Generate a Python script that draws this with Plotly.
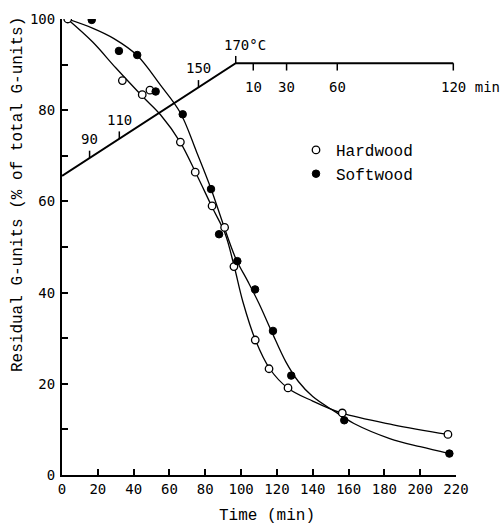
import numpy as np
import plotly.graph_objects as go

# ---------------- data ----------------
hard_time = [3.2, 33.7, 44.8, 49.1, 66.1, 74.4, 83.8, 90.8, 96.0, 107.9, 115.6, 126.2, 156.5, 215.5]
hard_resid = [100.0, 86.5, 83.4, 84.4, 73.0, 66.4, 59.0, 54.3, 45.7, 29.6, 23.3, 19.1, 13.6, 8.9]

soft_time = [16.6, 31.8, 42.0, 52.3, 67.4, 83.2, 87.7, 97.9, 107.8, 117.8, 128.0, 157.6, 216.3]
soft_resid = [99.8, 93.0, 92.1, 84.1, 79.1, 62.7, 52.8, 46.9, 40.7, 31.6, 21.8, 12.0, 4.7]

# fitted (hand-drawn) curves
hard_curve_time = [3, 17, 30, 45, 55, 66, 75, 84, 91, 96, 101, 108, 116, 126, 140, 156, 185, 215.5]
hard_curve_resid = [100, 95, 89.3, 83.0, 79.0, 73.0, 66.0, 58.6, 53.0, 46.0, 38.0, 29.6, 23.3, 19.1, 16.2, 13.6, 11.0, 8.9]

soft_curve_time = [3, 17, 29, 42, 55, 66, 75, 83, 90, 97, 104, 110, 117, 125, 132, 140, 152, 163, 183, 200, 216.3]
soft_curve_resid = [100, 98.0, 95.7, 92.0, 85.5, 79.5, 71.0, 63.0, 55.0, 47.5, 42.3, 37.6, 31.5, 24.8, 20.5, 17.2, 14.0, 11.3, 8.0, 6.2, 4.7]

# cooking temperature/time schedule (drawn in the same axes)
profile_time = [0, 97.0, 218.5]
profile_level = [65.6, 90.3, 90.3]
heat_tick_labels = ["90", "110", "150"]
heat_tick_time = [15.4, 32.0, 76.2]
top_label = "170°C"
hold_tick_labels = ["10", "30", "60", "120 min"]
hold_tick_time = [106.8, 125.4, 153.7, 218.5]

x_ticks = list(range(0, 221, 20))
y_ticks = list(range(0, 101, 20))

# ---------------- figure ----------------
MONO = "Liberation Mono"
NUM = "DejaVu Sans Mono"
fig = go.Figure()

fig.add_trace(go.Scatter(x=hard_curve_time, y=hard_curve_resid, mode="lines",
                         line=dict(color="black", width=1.3, shape="spline", smoothing=1.0),
                         showlegend=False, hoverinfo="skip"))
fig.add_trace(go.Scatter(x=soft_curve_time, y=soft_curve_resid, mode="lines",
                         line=dict(color="black", width=1.3, shape="spline", smoothing=1.0),
                         showlegend=False, hoverinfo="skip"))

# temperature profile
fig.add_trace(go.Scatter(x=profile_time, y=profile_level, mode="lines",
                         line=dict(color="black", width=2), showlegend=False, hoverinfo="skip"))

tick_len = 1.6
hx, hy = [], []
heat_levels = np.interp(heat_tick_time, profile_time, profile_level)
for t, lv in zip(heat_tick_time, heat_levels):
    hx += [t, t, None]
    hy += [lv, lv + tick_len, None]
# corner tick (170 °C) pointing up
hx += [profile_time[1], profile_time[1], None]
hy += [profile_level[1], profile_level[1] + tick_len, None]
hold_levels = np.interp(hold_tick_time, profile_time, profile_level)
for t, lv in zip(hold_tick_time, hold_levels):
    hx += [t, t, None]
    hy += [lv, lv - tick_len, None]
fig.add_trace(go.Scatter(x=hx, y=hy, mode="lines", line=dict(color="black", width=1.5),
                         showlegend=False, hoverinfo="skip"))

# data markers
fig.add_trace(go.Scatter(x=hard_time, y=hard_resid, mode="markers", name="Hardwood",
                         marker=dict(symbol="circle", size=7.5, color="white",
                                     line=dict(color="black", width=1.3))))
fig.add_trace(go.Scatter(x=soft_time, y=soft_resid, mode="markers", name="Softwood",
                         marker=dict(symbol="circle", size=7.5, color="black",
                                     line=dict(color="black", width=1))))

ann = []
for lab, t, lv in zip(heat_tick_labels, heat_tick_time, heat_levels):
    ann.append(dict(x=t, y=lv, xref="x", yref="y", text=lab, showarrow=False,
                    yshift=19, font=dict(family=NUM, size=14, color="black")))
ann.append(dict(x=profile_time[1], y=profile_level[1], xref="x", yref="y", text=top_label,
                showarrow=False, yshift=18, xshift=9, font=dict(family=NUM, size=14, color="black")))
for lab, t, lv in zip(hold_tick_labels, hold_tick_time, hold_levels):
    xs = 17 if "min" in lab else 0
    ann.append(dict(x=t, y=lv, xref="x", yref="y", text=lab, showarrow=False,
                    yshift=-24, xshift=xs, font=dict(family=NUM, size=14, color="black")))

# axis titles placed as paper annotations (positions as in the original)
ann.append(dict(x=(18 - 62) / 394, y=(475 - 195) / 456, xref="paper", yref="paper",
                xanchor="center", yanchor="middle",
                text="Residual G-units (% of total G-units)",
                showarrow=False, textangle=-90, font=dict(family=MONO, size=16, color="black")))
ann.append(dict(x=(267 - 62) / 394, y=(475 - 516) / 456, xref="paper", yref="paper",
                xanchor="center", yanchor="middle", text="Time (min)",
                showarrow=False, font=dict(family=MONO, size=16, color="black")))

fig.update_layout(
    width=504, height=524,
    margin=dict(l=62, r=48, t=19, b=49, autoexpand=False),
    paper_bgcolor="white", plot_bgcolor="white",
    showlegend=True,
    legend=dict(x=(296 - 62) / 394, y=(475 - 133) / 456, xanchor="left", yanchor="top",
                font=dict(family=MONO, size=16, color="black"), bgcolor="rgba(0,0,0,0)",
                itemwidth=30, tracegroupgap=2),
    xaxis=dict(range=[0, 220], tickvals=x_ticks, showline=True, linecolor="black", linewidth=2,
               ticks="inside", ticklen=6, tickwidth=1.5, tickcolor="black", showgrid=False,
               zeroline=False, automargin=False, tickfont=dict(family=NUM, size=14, color="black")),
    yaxis=dict(range=[0, 100], tickvals=y_ticks, showline=True, linecolor="black", linewidth=2,
               ticks="inside", ticklen=6, tickwidth=1.5, tickcolor="black", showgrid=False,
               zeroline=False, automargin=False, tickfont=dict(family=NUM, size=14, color="black"),
               ticklabelstandoff=2,
               minor=dict(dtick=10, ticks="inside", ticklen=6, tickwidth=1.5, tickcolor="black",
                          showgrid=False)),
    annotations=ann,
)

fig.write_html("out.html")
